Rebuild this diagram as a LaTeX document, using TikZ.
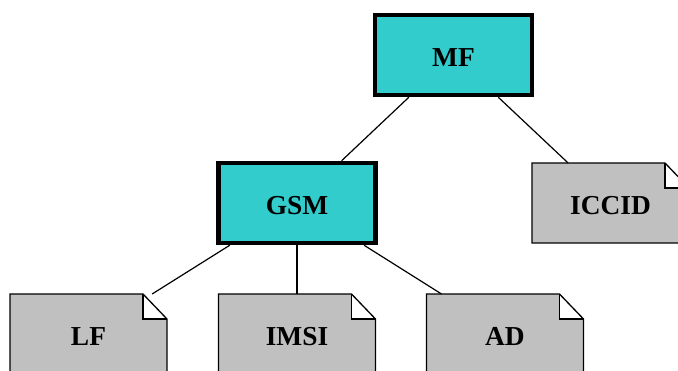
\documentclass[tikz,border=0pt]{standalone}
\usepackage{fontspec}
\setmainfont{Liberation Serif}
\definecolor{boxcyan}{HTML}{33CCCC}
\definecolor{notegray}{HTML}{C0C0C0}
\newcommand{\lowtext}[1]{\raisebox{-2.5pt}[\height][\depth]{#1}}
\begin{document}
\begin{tikzpicture}[x=1pt,y=-1pt,
  lbl/.style={font=\fontsize{27.4}{31}\selectfont\bfseries},
  modbox/.style={lbl, draw=black, line width=4.5pt, fill=boxcyan, minimum width=157pt, minimum height=80pt, inner sep=0pt},
  notebox/.style={lbl, fill=notegray, minimum width=157pt, minimum height=80pt, inner sep=0pt, outer sep=0pt},
  noteline/.style={line width=1.3pt},
  foldline/.style={line width=1.8pt},
  link/.style={line width=1.2pt}]
\useasboundingbox (0,0) rectangle (678,370);
\clip (0,0) rectangle (678,370);
\fill[white] (0,0) rectangle (678,370);

\node[modbox] (mf) at (453.5,55) {\lowtext{MF}};
\node[modbox] (gsm) at (297,203) {\lowtext{GSM}};
\node[notebox] (iccid) at (610.5,203) {\lowtext{ICCID}};
\node[notebox] (lf) at (88.5,334) {\lowtext{LF}};
\node[notebox] (imsi) at (297,334) {\lowtext{IMSI}};
\node[notebox] (ad) at (505,334) {\lowtext{AD}};

\foreach \n in {iccid,lf,imsi,ad}{
  \fill[white] ([xshift=-24pt]\n.north east) rectangle ([yshift=-25pt,xshift=1pt]\n.north east);
  \draw[noteline] (\n.north west) -- ([xshift=-24pt]\n.north east) -- ([yshift=-25pt]\n.north east) -- (\n.south east) -- (\n.south west) -- cycle;
  \draw[foldline] ([xshift=-24pt]\n.north east) |- ([yshift=-25pt]\n.north east);
}

\draw[link] (mf) -- (gsm);
\draw[link] (mf) -- (iccid);
\draw[link] (gsm) -- (lf);
\draw[link] (gsm) -- (imsi);
\draw[link] (gsm) -- (ad);
\end{tikzpicture}
\end{document}
